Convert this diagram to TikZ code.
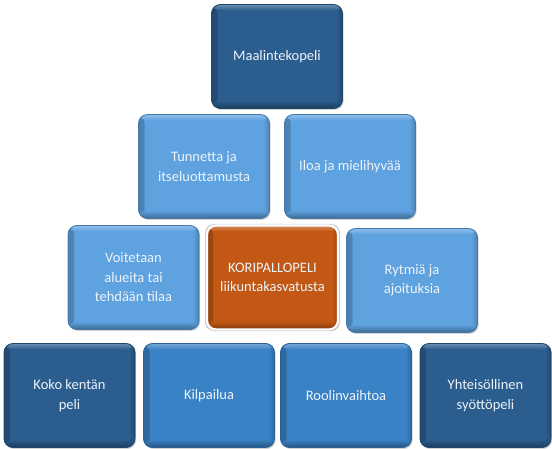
\documentclass[tikz,border=0pt]{standalone}
\usepackage{fontspec}
\setmainfont{Carlito}
\usetikzlibrary{shadows}
\definecolor{darkb}{RGB}{43,93,142}
\definecolor{lightb}{RGB}{94,162,224}
\definecolor{midb}{RGB}{58,130,198}
\definecolor{orng}{RGB}{194,88,20}
\definecolor{txt}{RGB}{236,243,250}
\tikzset{
  box/.style={rectangle, rounded corners=9pt, minimum width=131pt, minimum height=104pt,
    fill=#1, draw=#1!75!black, line width=0.8pt, align=center, text=txt,
    font=\fontsize{14.5}{19.5}\selectfont,
    drop shadow={opacity=0.35, shadow xshift=1.2pt, shadow yshift=-1.5pt},
    path picture={
      \shade[left color=#1!80!black, right color=#1] (path picture bounding box.south west) rectangle ([xshift=6pt]path picture bounding box.north west);
      \shade[left color=#1, right color=#1!80!black] ([xshift=-6pt]path picture bounding box.south east) rectangle (path picture bounding box.north east);
      \shade[top color=#1, bottom color=#1!65!black] (path picture bounding box.south west) rectangle ([yshift=8pt]path picture bounding box.south east);
      \shade[top color=#1!70!white, bottom color=#1] (path picture bounding box.north west) rectangle ([yshift=-6pt]path picture bounding box.north east);
    }},
  hub/.style={box=orng, draw=white, line width=2.2pt,
    drop shadow={opacity=0.45, shadow xshift=0pt, shadow yshift=0pt, shadow scale=1.03}}
}
\begin{document}
\begin{tikzpicture}[x=1pt,y=-1pt]
\useasboundingbox (0,0) rectangle (552,449);
\node[box=darkb] (m) at (277,56.5) {Maalintekopeli};
\node[box=lightb] (t) at (204,166.5) {Tunnetta ja\\itseluottamusta};
\node[box=lightb] (i) at (350,166.5) {Iloa ja mielihyvää};
\node[box=lightb] (v) at (133.5,277.5) {Voitetaan\\alueita tai\\tehdään tilaa};
\node[hub] (k) at (272.5,277.5) {KORIPALLOPELI\\liikuntakasvatusta};
\node[box=lightb] (r) at (412,280.5) {Rytmiä ja\\ajoituksia};
\node[box=darkb] (kk) at (69.5,395.5) {Koko kentän\\peli};
\node[box=midb] (ki) at (209,395.5) {Kilpailua};
\node[box=midb] (ro) at (346,395.5) {Roolinvaihtoa};
\node[box=darkb] (y) at (485.5,395.5) {Yhteisöllinen\\syöttöpeli};
\end{tikzpicture}
\end{document}
